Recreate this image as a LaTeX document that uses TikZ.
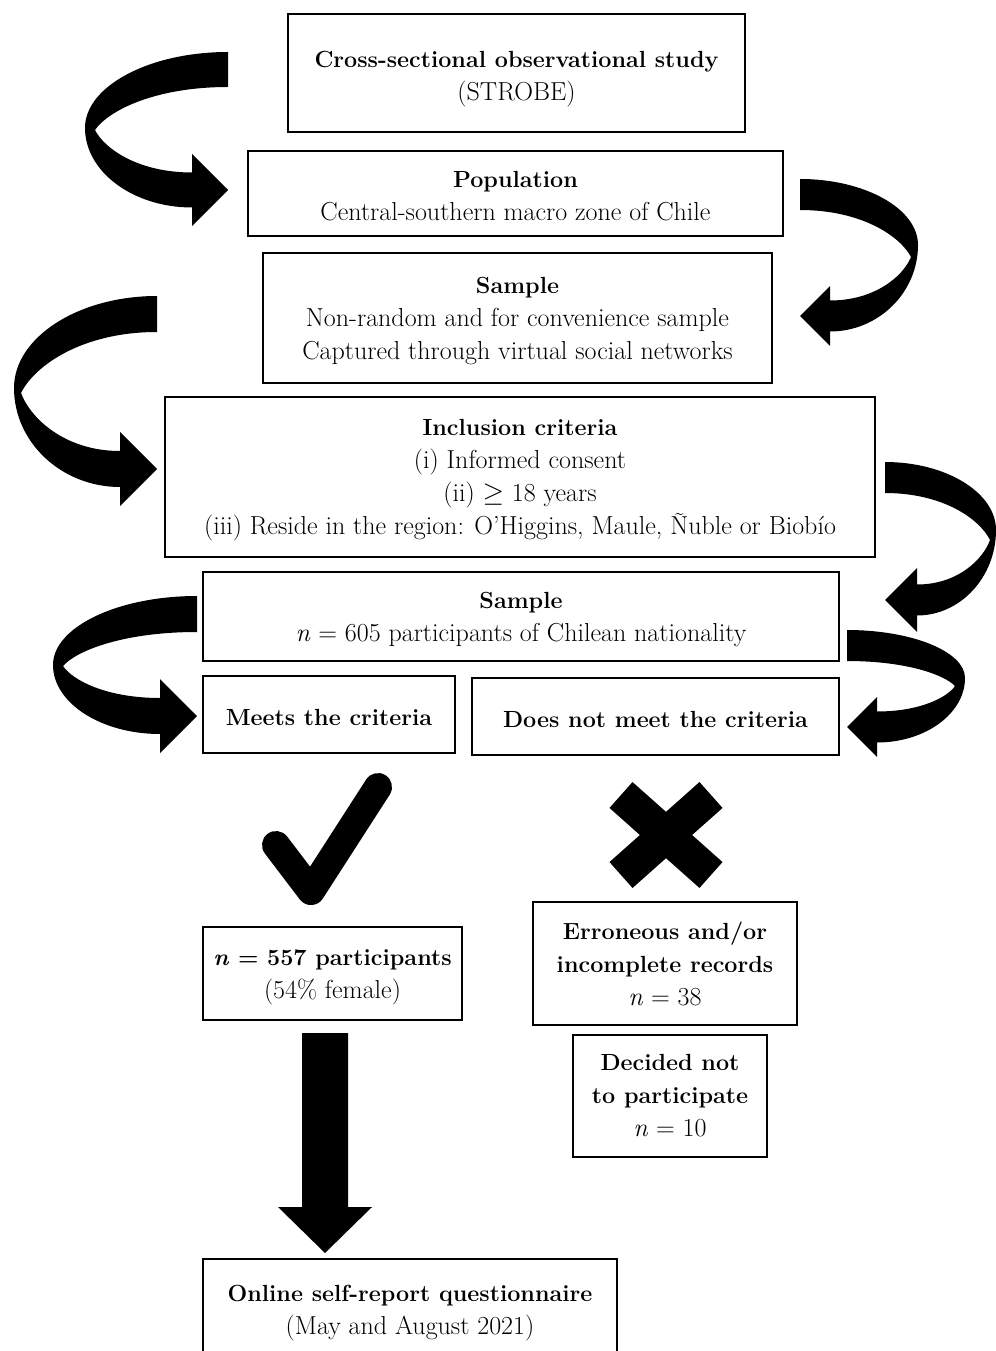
\documentclass[tikz,border=0pt]{standalone}
\usepackage{fontspec}
\newcommand\Bf[1]{{\fontsize{17.5}{24.75}\selectfont\bfseries #1}}
\newcommand\Sx[1]{\rule{0pt}{#1pt}}
\begin{document}
\begin{tikzpicture}[x=0.75pt,y=-0.75pt,
  every node/.style={font=\fontsize{19.5}{24.75}\selectfont},
  box/.style={draw=black, line width=1.3pt, inner sep=0pt, align=center, fill=white}]
\useasboundingbox (0,0) rectangle (995,1351);
% curved arrow: T,t1,w,L,mo,I,mi,H,yc
\newcommand\carrow[9]{%
\fill[black] (#1,#2) .. controls ({#1-0.55*(#1-#4)},#2) and (#4,{#5-0.55*(#5-#2)}) .. (#4,#5)
 .. controls (#4,{#5+0.55*(#9+#3/2-#5)}) and ({#8-0.55*(#8-#4)},{#9+#3/2}) .. (#8,{#9+#3/2})
 -- (#8,{#9+abs(#1-#8)}) -- (#1,#9) -- (#8,{#9-abs(#1-#8)}) -- (#8,{#9-#3/2})
 .. controls ({#8-0.55*(#8-#6)},{#9-#3/2}) and ({#6+0.1*(#8-#6)},{#7+0.45*(#9-#3/2-#7)}) .. (#6,#7)
 .. controls ({#6+0.1*(#1-#6)},{#7-0.45*(#7-#2-#3)}) and ({#1-0.55*(#1-#6)},{#2+#3}) .. (#1,{#2+#3})
 -- cycle;}

% boxes
\node[box, minimum width=342.75pt, minimum height=88.5pt] (b1) at (516.5,73)
  {\Sx{22}\Bf{Cross-sectional observational study}\\(STROBE)};
\node[box, minimum width=401.25pt, minimum height=63.75pt] (b2) at (515.5,193.5)
  {\Sx{16}\Bf{Population}\\Central-southern macro zone of Chile};
\node[box, minimum width=381.75pt, minimum height=97.5pt] (b3) at (517.5,318)
  {\Sx{17}\Bf{Sample}\\Non-random and for convenience sample\\Captured through virtual social networks};
\node[box, minimum width=532.5pt, minimum height=120pt] (b4) at (520,477)
  {\Sx{17}\Bf{Inclusion criteria}\\(i) Informed consent\\(ii) $\geq$ 18 years\\(iii) Reside in the region: O’Higgins, Maule, Ñuble or Biobío};
\node[box, minimum width=477pt, minimum height=66.75pt] (b5) at (521,616.5)
  {\Sx{16}\Bf{Sample}\\\textit{n} = 605 participants of Chilean nationality};
\node[box, minimum width=189pt, minimum height=57.75pt] (b6) at (329,714.5)
  {\Sx{16}\Bf{Meets the criteria}};
\node[box, minimum width=275.25pt, minimum height=57.75pt] (b7) at (655.5,716.5)
  {\Sx{16}\Bf{Does not meet the criteria}};
\node[box, minimum width=194.25pt, minimum height=69.75pt] (b8) at (332.5,973.5)
  {\Sx{18}\Bf{\textit{n} = 557 participants}\\(54\% female)};
\node[box, minimum width=198pt, minimum height=92.25pt] (b9) at (665,963.5)
  {\Bf{Erroneous and/or}\\\Bf{incomplete records}\\\textit{n} = 38};
\node[box, minimum width=145.5pt, minimum height=91.5pt] (b10) at (670,1096)
  {\Bf{Decided not}\\\Bf{to participate}\\\textit{n} = 10};
\node[box, minimum width=310.5pt, minimum height=75.75pt] (b11) at (410,1309.5)
  {\Sx{17}\Bf{Online self-report questionnaire}\\(May and August 2021)};

% curved arrows
\carrow{228}{52}{35}{85}{128}{95}{130}{192}{190}
\carrow{800}{179}{31}{918}{245}{911}{257}{830}{316}
\carrow{157}{296}{36}{14}{388}{21}{393}{120}{469}
\carrow{885}{462}{31}{996}{530}{990}{540}{917}{600}
\carrow{197}{596}{36}{53}{665}{63}{666}{160}{716}
\carrow{847}{630}{31}{965}{678}{955}{686}{877}{727}

% check mark
\draw[line width=21pt, line cap=round, line join=round] (276,845) -- (311,891) -- (378,787);
% cross
\draw[line width=26pt] (621,795) -- (711,875);
\draw[line width=26pt] (711,795) -- (621,875);

% down arrow
\fill[black] (302,1033) -- (348,1033) -- (348,1207) -- (372,1207) -- (325,1253)
  -- (278,1207) -- (302,1207) -- cycle;
\end{tikzpicture}
\end{document}
